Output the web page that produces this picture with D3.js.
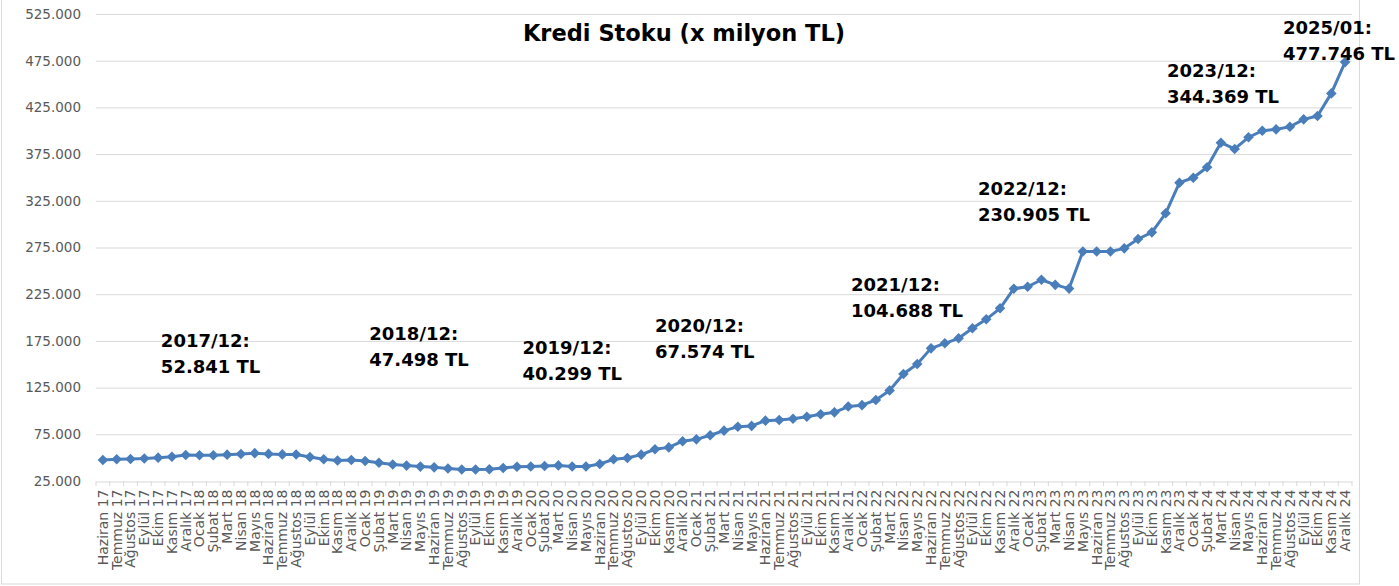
<!DOCTYPE html>
<html>
<head>
<meta charset="utf-8">
<script src="https://cdn.jsdelivr.net/npm/d3@7"></script>
<style>
  html, body { margin: 0; padding: 0; background: #fff; }
  svg { display: block; font-family: "DejaVu Sans", sans-serif; }
</style>
</head>
<body>
<svg id="chart" width="1399" height="586"></svg>
<script>
// month names and years used for the category axis
const months = ["Ocak", "Şubat", "Mart", "Nisan", "Mayıs", "Haziran", "Temmuz", "Ağustos", "Eylül", "Ekim", "Kasım", "Aralık"];
const years = ["17", "18", "19", "20", "21", "22", "23", "24"];

// Kredi stoku, Haziran 17 .. Aralık 24 (x milyon TL)
const values = [
  47500, 48300, 48500, 49000, 50000, 51000, 52841,
  52500, 52500, 53200, 53900, 54800, 54000, 53500, 53300, 50700, 48300, 47000, 47498,
  46400, 44600, 42600, 41500, 40400, 39600, 38300, 37400, 37400, 37500, 38900, 40299,
  40500, 41000, 41700, 40600, 40600, 43200, 48200, 49600, 53200, 59000, 61000, 67574,
  69600, 74000, 78900, 83000, 84000, 89600, 90300, 91700, 93800, 96500, 98500, 104688,
  106200, 111700, 122000, 139600, 150300, 167000, 172400, 177800, 188500, 198100, 209900, 230905,
  233000, 240500, 235000, 231000, 270800, 270800, 270800, 274100, 284100, 291200, 311600, 344369,
  349700, 360900, 387200, 380500, 393000, 400000, 401500, 404300, 412200, 415800, 440000, 473500
];

const yTicks = [25000, 75000, 125000, 175000, 225000, 275000, 325000, 375000, 425000, 475000, 525000];

// year-end annotations: text lines, anchored at (category index, value)
const notes = [
  {lines: ["2017/12:", "52.841 TL"], at: [4.2, 168000]},
  {lines: ["2018/12:", "47.498 TL"], at: [19.3, 175500]},
  {lines: ["2019/12:", "40.299 TL"], at: [30.4, 161500]},
  {lines: ["2020/12:", "67.574 TL"], at: [40.0, 184000]},
  {lines: ["2021/12:", "104.688 TL"], at: [54.2, 228500]},
  {lines: ["2022/12:", "230.905 TL"], at: [63.4, 331500]},
  {lines: ["2023/12:", "344.369 TL"], at: [77.1, 458000]},
  {lines: ["2025/01:", "477.746 TL"], at: [85.5, 504000]}
];

const categories = [];
months.slice(5).forEach(m => categories.push(m + " " + years[0]));
years.slice(1).forEach(yr => months.forEach(m => categories.push(m + " " + yr)));

const svg = d3.select("#chart");
const plotL = 96, plotR = 1352, plotT = 14, plotB = 481;

const x = d3.scaleBand().domain(categories).range([plotL, plotR]);
const y = d3.scaleLinear().domain([25000, 525000]).range([plotB, plotT]);
const xi = i => plotL + (i + 0.5) * x.step();

// outer frame
svg.append("rect")
  .attr("x", 1.5).attr("y", -2).attr("width", 1358).attr("height", 586)
  .attr("fill", "none").attr("stroke", "#d9d9d9");

// gridlines
svg.append("g").selectAll("line").data(yTicks.slice(1)).join("line")
  .attr("x1", plotL).attr("x2", plotR)
  .attr("y1", d => y(d) + 0.5).attr("y2", d => y(d) + 0.5)
  .attr("stroke", "#d9d9d9");

// y axis labels
const fmt = d => d3.format(",")(d).replace(/,/g, ".");
const yAxis = svg.append("g")
  .attr("transform", `translate(${plotL},0)`)
  .call(d3.axisLeft(y).tickValues(yTicks).tickFormat(fmt).tickSize(0).tickPadding(15));
yAxis.select(".domain").remove();
yAxis.selectAll("text").attr("fill", "#595959").style("font-size", "13.5px")
  .style("font-family", "'DejaVu Sans', sans-serif");

// x axis
const xAxis = svg.append("g")
  .attr("transform", `translate(0,${plotB + 0.5})`)
  .call(d3.axisBottom(x).tickSize(0).tickPadding(0));
xAxis.select(".domain").attr("stroke", "#d9d9d9");
xAxis.selectAll("text")
  .attr("fill", "#595959")
  .style("font-size", "14px")
  .style("font-family", "'DejaVu Sans', sans-serif")
  .attr("text-anchor", "end")
  .attr("transform", "rotate(-90)")
  .attr("x", -8).attr("y", 0).attr("dy", "0.35em");
// tick marks between categories
svg.append("g").selectAll("line").data(d3.range(categories.length + 1)).join("line")
  .attr("x1", i => plotL + i * x.step()).attr("x2", i => plotL + i * x.step())
  .attr("y1", plotB).attr("y2", plotB + 5)
  .attr("stroke", "#d9d9d9");

// line + diamond markers
const line = d3.line().x((d, i) => xi(i)).y(d => y(d));
svg.append("path").datum(values)
  .attr("d", line)
  .attr("fill", "none").attr("stroke", "#4a7ebb").attr("stroke-width", 3)
  .attr("stroke-linejoin", "round");

const diamond = d3.symbol(d3.symbolSquare, 56);
svg.append("g").selectAll("path").data(values).join("path")
  .attr("d", diamond)
  .attr("transform", (d, i) => `translate(${xi(i)},${y(d)}) rotate(45)`)
  .attr("fill", "#4a7ebb");

// title
svg.append("text")
  .attr("x", 684).attr("y", 41)
  .attr("text-anchor", "middle")
  .style("font-size", "22.5px").style("font-weight", "bold")
  .attr("fill", "#000")
  .text("Kredi Stoku (x milyon TL)");

// annotations
const ng = svg.append("g").selectAll("text").data(notes).join("text")
  .attr("x", d => xi(d.at[0]))
  .attr("y", d => y(d.at[1]))
  .style("font-size", "18px").style("font-weight", "bold")
  .attr("fill", "#000");
ng.selectAll("tspan").data(d => d.lines.map(t => ({t, x: xi(d.at[0])}))).join("tspan")
  .attr("x", d => d.x)
  .attr("dy", (d, i) => i ? 26 : 0)
  .text(d => d.t);
</script>
</body>
</html>
